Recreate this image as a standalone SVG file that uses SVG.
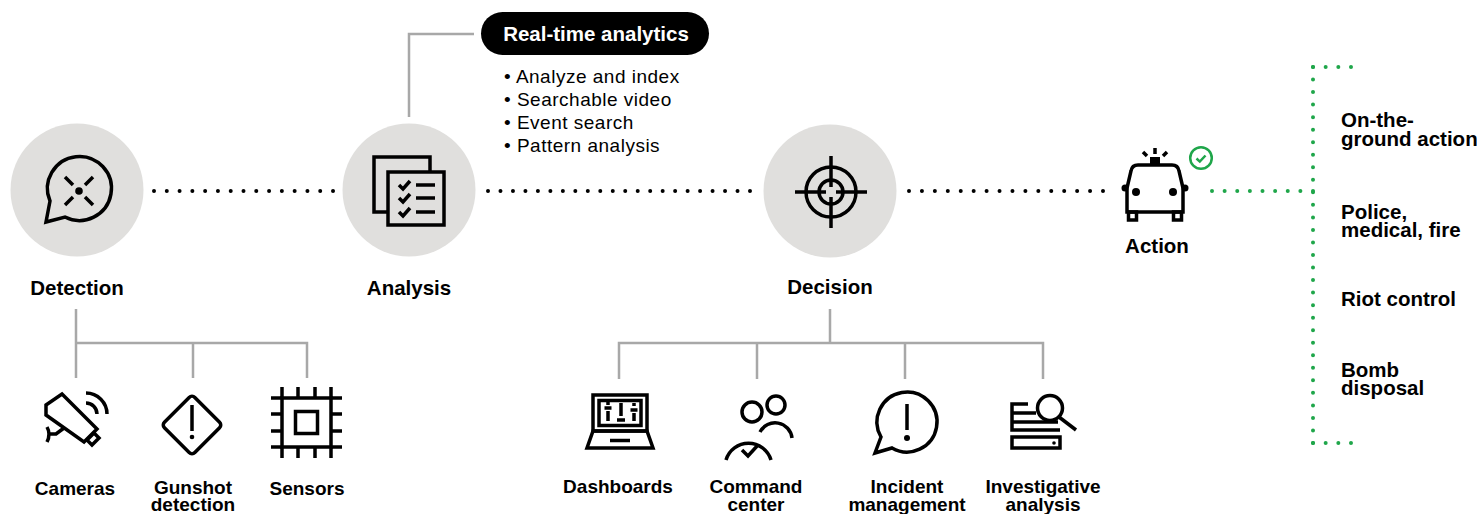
<svg xmlns="http://www.w3.org/2000/svg" width="1477" height="514" viewBox="0 0 1477 514">
<defs>
<style>
.bg{fill:#e0dfdd}
.ic{fill:none;stroke:#000;stroke-width:3.5;stroke-linecap:butt;stroke-linejoin:miter}
.icf{fill:#000}
.tree{fill:none;stroke:#a8a8a8;stroke-width:2.5}
.dot{fill:none;stroke:#000;stroke-width:4;stroke-linecap:round}
.gdot{fill:none;stroke:#1fa64a;stroke-width:4;stroke-linecap:round}
.lbl{font-family:"Liberation Sans",Arial,sans-serif;font-weight:bold;font-size:20.5px;fill:#000;text-anchor:middle}
.sub{font-family:"Liberation Sans",Arial,sans-serif;font-weight:bold;font-size:19px;fill:#000;text-anchor:middle}
.lst{font-family:"Liberation Sans",Arial,sans-serif;font-weight:bold;font-size:20.5px;fill:#000}
.bul{font-family:"Liberation Sans",Arial,sans-serif;font-size:19px;letter-spacing:0.5px;fill:#000}
</style>
</defs>
<rect width="1477" height="514" fill="#fff"/>

<g id="connectors">
  <line class="dot" x1="154" y1="191" x2="333.5" y2="191" stroke-dasharray="0 12.786"/>
  <line class="dot" x1="488" y1="191" x2="750.5" y2="191" stroke-dasharray="0 12.476"/>
  <line class="dot" x1="909" y1="191" x2="1103.5" y2="191" stroke-dasharray="0 12.933"/>
  <line class="gdot" x1="1212" y1="191" x2="1313.5" y2="191" stroke-dasharray="0 12.625"/>
  <line class="gdot" x1="1313" y1="67" x2="1313" y2="443.5" stroke-dasharray="0 12.533"/>
  <line class="gdot" x1="1313" y1="67" x2="1351.5" y2="67" stroke-dasharray="0 12.666"/>
  <line class="gdot" x1="1313" y1="443" x2="1351.5" y2="443" stroke-dasharray="0 12.666"/>
  <path class="tree" d="M409,117 V34 H474"/>
  <path class="tree" d="M76,309 V378 M76,343 H307 V378 M193,343 V378"/>
  <path class="tree" d="M830,309 V343 M619,379 V343 H1043 V379 M757,343 V379 M905,343 V379"/>
</g>

<g id="realtime">
  <rect x="481" y="12" width="228" height="43" rx="21.5" fill="#000"/>
  <text x="596" y="41" style="font-family:'Liberation Sans',Arial,sans-serif;font-weight:bold;font-size:20.5px;fill:#fff;text-anchor:middle">Real-time analytics</text>
  <text class="bul" x="504" y="83">• Analyze and index</text>
  <text class="bul" x="504" y="106">• Searchable video</text>
  <text class="bul" x="504" y="129">• Event search</text>
  <text class="bul" x="504" y="152">• Pattern analysis</text>
</g>

<g id="detection">
  <circle class="bg" cx="77" cy="190" r="66.5"/>
  <path class="ic" d="M50,201 A32,32 0 1 1 65,217 L46,222 Z"/>
  <circle class="icf" cx="79" cy="191" r="3.8"/>
  <path class="ic" stroke-width="3" d="M65,177 L73,185 M93,177 L85,185 M65,205 L73,197 M93,205 L85,197"/>
  <text class="lbl" x="77" y="295">Detection</text>
</g>

<g id="analysis">
  <circle class="bg" cx="409" cy="190" r="66.5"/>
  <rect class="ic" x="374" y="157" width="56" height="55" style="fill:#e0dfdd"/>
  <rect class="ic" x="388" y="172" width="56" height="53" style="fill:#e0dfdd"/>
  <path class="ic" stroke-width="3" d="M399,185 L403,189 L410,181 M399,198 L403,202 L410,194 M399,212 L403,216 L410,208"/>
  <path class="ic" stroke-width="3.5" d="M416,185 H435 M416,198 H435 M416,212 H435"/>
  <text class="lbl" x="409" y="295">Analysis</text>
</g>

<g id="decision">
  <circle class="bg" cx="830" cy="191" r="66.5"/>
  <circle class="ic" stroke-width="4" cx="831" cy="192" r="25"/>
  <circle class="ic" stroke-width="4" cx="831" cy="192" r="12"/>
  <path class="ic" stroke-width="4" d="M795,192 H826 M836,192 H867 M831,156 V187 M831,197 V228"/>
  <text class="lbl" x="830" y="294">Decision</text>
</g>

<g id="action">
  <path class="ic" stroke-width="4" d="M1127,212 V188 L1131,171 Q1132,165 1138,165 H1172 Q1178,165 1179,171 L1183,188 V212 Z"/>
  <circle class="icf" cx="1125" cy="188" r="3.5"/>
  <circle class="icf" cx="1185" cy="188" r="3.5"/>
  <circle class="icf" cx="1136" cy="192" r="4"/>
  <circle class="icf" cx="1173" cy="192" r="4"/>
  <rect class="ic" x="1128.5" y="212" width="8" height="8" stroke-width="3"/>
  <rect class="ic" x="1173.5" y="212" width="8" height="8" stroke-width="3"/>
  <rect class="icf" x="1150" y="157" width="10" height="8"/>
  <path class="ic" stroke-width="3.5" d="M1155,148 V154 M1143,152 L1147,156 M1167,152 L1163,156"/>
  <circle cx="1201" cy="158" r="10.8" fill="none" stroke="#1fa64a" stroke-width="2.5"/>
  <path d="M1196.5,158.5 L1199.8,161.6 L1205.5,155.5" fill="none" stroke="#1fa64a" stroke-width="2.5"/>
  <text class="lbl" x="1157" y="253">Action</text>
</g>

<g id="cameras">
  <polygon class="ic" stroke-width="3" points="62,394 97,429 84,442 46,415 46,405"/>
  <polygon class="ic" stroke-width="3" points="94,433 99,438 92,445 87,440"/>
  <path class="ic" stroke-width="3" d="M47,427 Q51,434 47,442 M49,434 H56 L64,428"/>
  <path class="ic" stroke-width="3" d="M86,393 A21,21 0 0 1 107,414 M86,403 A11,11 0 0 1 97,414"/>
  <text class="sub" x="75" y="495">Cameras</text>
</g>

<g id="gunshot">
  <rect class="ic" stroke-width="3" x="-21.5" y="-21.5" width="43" height="43" rx="4" transform="translate(192,425) rotate(45)"/>
  <line class="ic" stroke-width="3.5" x1="192" y1="405" x2="192" y2="431"/>
  <circle class="icf" cx="192" cy="437" r="2.3"/>
  <text class="sub" x="193" y="494">Gunshot</text>
  <text class="sub" x="193" y="510.5">detection</text>
</g>

<g id="sensors">
  <rect class="ic" stroke-width="4" x="282" y="398" width="49" height="49"/>
  <rect class="ic" stroke-width="4" x="295.5" y="411.5" width="22" height="22"/>
  <path class="ic" stroke-width="4" d="M282,387 V398 M298,387 V398 M315,387 V398 M331,387 V398 M282,447 V458 M298,447 V458 M315,447 V458 M331,447 V458 M271,398 H282 M271,414 H282 M271,431 H282 M271,447 H282 M331,398 H342 M331,414 H342 M331,431 H342 M331,447 H342"/>
  <text class="sub" x="307" y="495">Sensors</text>
</g>

<g id="dashboards">
  <rect class="ic" x="593" y="395" width="54" height="36"/>
  <rect class="ic" stroke-width="2" x="599" y="400.5" width="42" height="25"/>
  <path class="ic" stroke-width="3.5" d="M593,431 H647 L653,448 H587 Z"/>
  <path class="ic" stroke-width="3" d="M610,440.5 H630"/>
  <path class="ic" stroke-width="2.5" d="M608,402 V405 M604.5,408 H611.5 M608,411 V421 M621,403 V416 M617,420 H625 M634,403 V406 M630.5,410 H637.5 M634,413 V421"/>
  <text class="sub" x="618" y="493">Dashboards</text>
</g>

<g id="command">
  <circle class="ic" stroke-width="3.5" cx="752" cy="412" r="10"/>
  <circle class="ic" stroke-width="3.5" cx="776" cy="405" r="9"/>
  <path class="ic" stroke-width="3.5" d="M726,460 A23.5,23.5 0 0 1 771,460"/>
  <path class="ic" stroke-width="3.5" d="M760,432 A17,17 0 0 1 792,438"/>
  <path class="ic" stroke-width="3" d="M742,450 L748,456 L758,445"/>
  <text class="sub" x="756" y="493">Command</text>
  <text class="sub" x="756" y="510.5">center</text>
</g>

<g id="incident">
  <path class="ic" stroke-width="3.5" d="M881,437 A30,30 0 1 1 892,448 L875,453 Z"/>
  <line class="ic" stroke-width="4.5" x1="907" y1="404" x2="907" y2="430"/>
  <circle class="icf" cx="907" cy="438" r="3"/>
  <text class="sub" x="907" y="493">Incident</text>
  <text class="sub" x="907" y="510.5">management</text>
</g>

<g id="investigative">
  <path class="ic" stroke-width="3.5" d="M1028,404 H1012 V430 H1060 M1012,413 H1036 M1012,422 H1058"/>
  <rect class="ic" stroke-width="3.5" x="1012" y="437" width="48" height="11"/>
  <circle class="icf" cx="1054" cy="443" r="1.8"/>
  <circle class="ic" stroke-width="3.5" cx="1050" cy="408" r="12.5" style="fill:#fff"/>
  <path class="ic" stroke-width="3.5" d="M1059,417 L1076,430"/>
  <text class="sub" x="1043" y="493">Investigative</text>
  <text class="sub" x="1043" y="510.5">analysis</text>
</g>

<g id="outcomes">
  <text class="lst" x="1341" y="127">On-the-</text>
  <text class="lst" x="1341" y="146">ground action</text>
  <text class="lst" x="1341" y="219">Police,</text>
  <text class="lst" x="1341" y="237">medical, fire</text>
  <text class="lst" x="1341" y="306">Riot control</text>
  <text class="lst" x="1341" y="377">Bomb</text>
  <text class="lst" x="1341" y="395">disposal</text>
</g>
</svg>
